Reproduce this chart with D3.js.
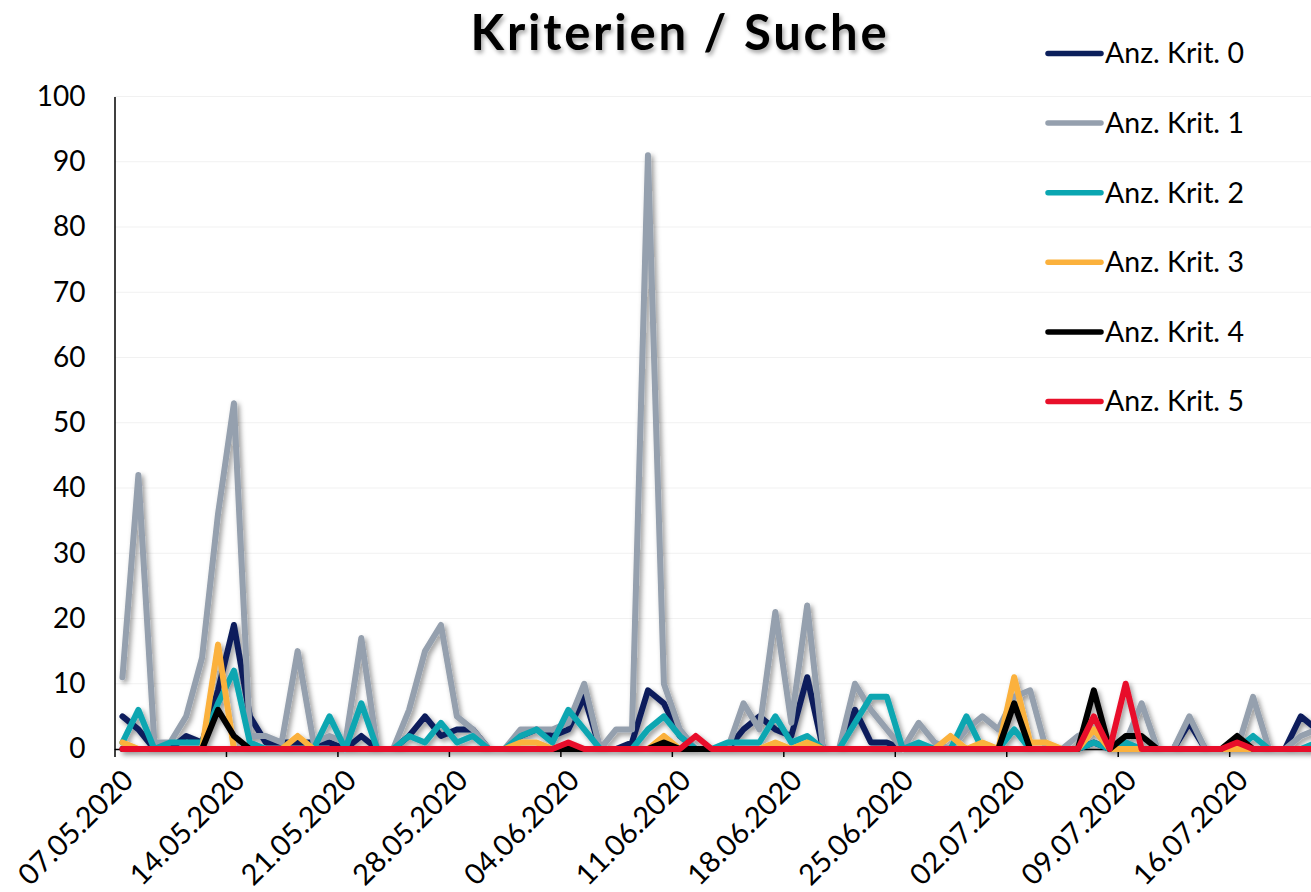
<!DOCTYPE html>
<html>
<head>
<meta charset="utf-8">
<script src="https://cdn.jsdelivr.net/npm/d3@7"></script>
<style>
  html, body { margin: 0; padding: 0; background: #fff; }
  svg { display: block; }
</style>
</head>
<body>
<svg id="chart" width="1311" height="892"></svg>
<script>
// ---------- data ----------
const title = "Kriterien / Suche";
const startDay = "07.05.2020";
const endDay = "21.07.2020";
const xTickLabels = ["07.05.2020","14.05.2020","21.05.2020","28.05.2020","04.06.2020","11.06.2020",
                     "18.06.2020","25.06.2020","02.07.2020","09.07.2020","16.07.2020"];
const yTicks = [0,10,20,30,40,50,60,70,80,90,100];
const seriesNames = ["Anz. Krit. 0","Anz. Krit. 1","Anz. Krit. 2","Anz. Krit. 3","Anz. Krit. 4","Anz. Krit. 5"];
const seriesColors = ["#0b1f5c","#95a0ae","#0aa6b1","#fbb13c","#000000","#e8102a"];

const krit0 = [5,3,0,0,2,1,9,19,5,1,1,1,1,1,0,2,0,0,2,5,2,3,3,0,0,2,3,2,3,8,0,0,1,9,7,2,0,0,0,3,
               5,3,2,11,0,0,6,1,1,0,0,0,0,0,0,0,0,0,0,0,0,1,0,0,0,0,0,4,0,0,0,0,0,0,5,3];
const krit1 = [11,42,1,1,5,14,36,53,2,2,1,15,1,2,1,17,0,0,6,15,19,5,3,0,0,3,3,3,4,10,0,3,3,91,10,3,0,0,0,7,
               3,21,4,22,0,0,10,6,3,0,4,1,0,3,5,3,8,9,0,0,2,3,0,1,7,0,0,5,0,0,0,8,0,0,2,3];
const krit2 = [1,6,0,1,1,1,7,12,1,0,0,0,0,5,0,7,0,0,2,1,4,1,2,0,0,2,3,1,6,3,0,0,0,3,5,2,0,0,1,1,
               1,5,1,2,0,0,4,8,8,0,1,0,0,5,0,0,3,0,0,0,0,1,0,1,0,0,0,0,0,0,0,2,0,0,0,1];
const krit3 = [1,0,0,0,0,0,16,0,0,0,0,2,0,0,0,0,0,0,0,0,0,0,0,0,0,1,1,0,0,0,0,0,0,0,2,0,0,0,0,0,
               0,1,0,1,0,0,0,0,0,0,0,0,2,0,1,0,11,1,1,0,0,3,0,0,0,0,0,0,0,0,0,0,0,0,0,0];
const krit4 = [0,0,0,0,0,0,6,2,0,0,0,0,0,0,0,0,0,0,0,0,0,0,0,0,0,0,0,0,0,0,0,0,0,0,1,0,0,0,0,0,
               0,0,0,0,0,0,0,0,0,0,0,0,0,0,0,0,7,0,0,0,0,9,0,2,2,0,0,0,0,0,2,0,0,0,0,0];
const krit5 = [0,0,0,0,0,0,0,0,0,0,0,0,0,0,0,0,0,0,0,0,0,0,0,0,0,0,0,0,1,0,0,0,0,0,0,0,2,0,0,0,
               0,0,0,0,0,0,0,0,0,0,0,0,0,0,0,0,0,0,0,0,0,5,0,10,0,0,0,0,0,0,1,0,0,0,0,0];
const seriesValues = [krit0, krit1, krit2, krit3, krit4, krit5];

// ---------- layout ----------
const parse = d3.timeParse("%d.%m.%Y");
const fmt = d3.timeFormat("%d.%m.%Y");
const d0 = parse(startDay);
const dates = d3.timeDay.range(d0, d3.timeDay.offset(parse(endDay), 1));

const x0 = 114.5, dayW = 15.924;
const x = d3.scaleTime()
  .domain([d0, d3.timeDay.offset(d0, 75)])
  .range([x0, x0 + 75 * dayW]);
const y = d3.scaleLinear().domain([0, 100]).range([749, 96.5]);

const svg = d3.select("#chart");
const defs = svg.append("defs");
const sh = defs.append("filter").attr("id", "shadow")
  .attr("x", "-20%").attr("y", "-20%").attr("width", "140%").attr("height", "140%");
sh.append("feDropShadow").attr("dx", 2.5).attr("dy", 3).attr("stdDeviation", 2.5)
  .attr("flood-color", "#000").attr("flood-opacity", 0.4);
const tsh = defs.append("filter").attr("id", "tshadow")
  .attr("x", "-10%").attr("y", "-30%").attr("width", "120%").attr("height", "160%");
tsh.append("feDropShadow").attr("dx", 2).attr("dy", 3).attr("stdDeviation", 2)
  .attr("flood-color", "#000").attr("flood-opacity", 0.35);

const font = "Lato, 'Open Sans', sans-serif";

// gridlines
svg.append("g").selectAll("line").data(yTicks.filter(v => v > 0)).join("line")
  .attr("x1", x0).attr("x2", 1311)
  .attr("y1", d => y(d)).attr("y2", d => y(d))
  .attr("stroke", "#f1f1f1").attr("stroke-width", 1);

// y axis
const yAxis = svg.append("g").attr("transform", `translate(${x0},0)`)
  .call(d3.axisLeft(y).tickValues(yTicks).tickSize(0).tickPadding(29));
yAxis.select(".domain").attr("stroke", "#000").attr("stroke-width", 1.5);
yAxis.selectAll("text").attr("font-family", font).attr("font-size", 28).attr("fill", "#000");

// x axis
const xTickDates = xTickLabels.map(parse);
const xAxis = svg.append("g").attr("transform", `translate(0,${y(0)})`)
  .call(d3.axisBottom(x).tickValues(xTickDates).tickFormat(fmt).tickSize(8).tickSizeOuter(0));
xAxis.select(".domain").attr("stroke", "#000").attr("stroke-width", 1.5);
xAxis.selectAll(".tick line").attr("stroke", "#000").attr("stroke-width", 1.5);
xAxis.selectAll("text")
  .attr("font-family", font).attr("font-size", 29).attr("fill", "#000")
  .attr("text-anchor", "end")
  .attr("transform", "translate(13,26) rotate(-45)")
  .attr("dy", "0.35em").attr("y", 0).attr("x", 0);

// lines
const line = d3.line()
  .x((d, i) => x(d3.timeHour.offset(dates[i], 12)))
  .y(d => y(d));
const gl = svg.append("g").attr("filter", "url(#shadow)");
seriesValues.forEach((vals, k) => {
  gl.append("path").datum(vals)
    .attr("d", line)
    .attr("fill", "none")
    .attr("stroke", seriesColors[k])
    .attr("stroke-width", 6)
    .attr("stroke-linejoin", "round")
    .attr("stroke-linecap", "round");
});

// title
svg.append("text").attr("x", 680).attr("y", 50)
  .attr("text-anchor", "middle")
  .attr("font-family", font).attr("font-weight", 700).attr("font-size", 49)
  .attr("letter-spacing", 2.8)
  .attr("fill", "#000").attr("filter", "url(#tshadow)")
  .text(title);

// legend
const lg = svg.append("g");
seriesNames.forEach((name, k) => {
  const ly = 53.5 + k * 69.6;
  lg.append("line").attr("x1", 1048).attr("x2", 1101).attr("y1", ly).attr("y2", ly)
    .attr("stroke", seriesColors[k]).attr("stroke-width", 5.5).attr("stroke-linecap", "round");
  lg.append("text").attr("x", 1105).attr("y", ly).attr("dy", "0.35em")
    .attr("font-family", font).attr("font-size", 28.5).attr("fill", "#000")
    .text(name);
});
</script>
</body>
</html>
